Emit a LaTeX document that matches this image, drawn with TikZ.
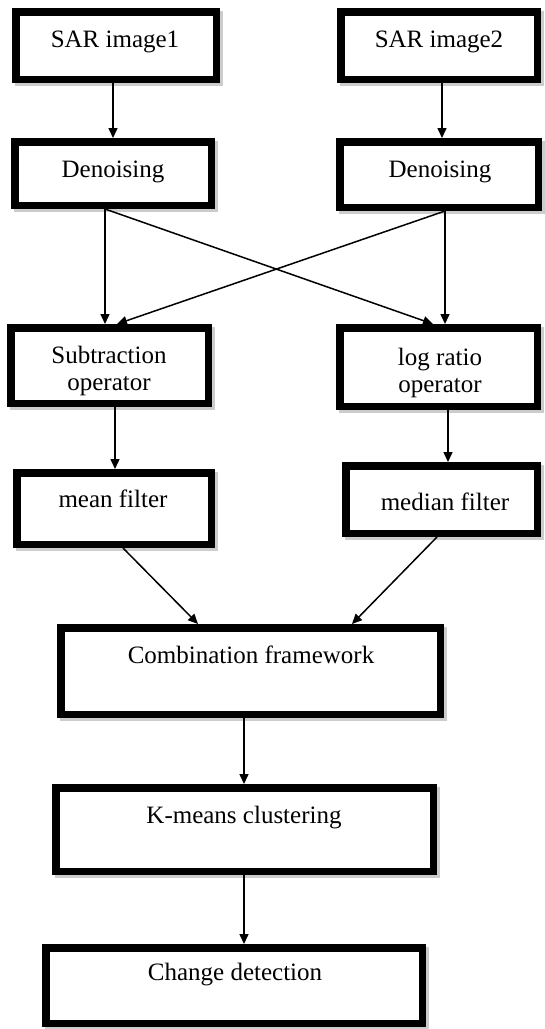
\documentclass[tikz,border=0pt]{standalone}
\usepackage{fontspec}
\setmainfont{Liberation Serif}
\usetikzlibrary{arrows.meta,shadows}
\tikzset{
  box/.style={draw=black, line width=7.5pt, fill=white, rectangle, inner sep=0pt, outer sep=3.75pt,
    drop shadow={shadow xshift=2.5pt, shadow yshift=-2.5pt, fill=gray!40, draw=gray!40, line width=7.5pt, opacity=1}},
  lbl/.style={font=\fontsize{25}{27}\selectfont, inner sep=0pt, align=center, text=black},
  arr/.style={line width=1.5pt, -{Triangle[length=10pt,width=9pt]}},
}
\begin{document}
\begin{tikzpicture}[x=1pt,y=-1pt]
\useasboundingbox (0,0) rectangle (544,1029);

% boxes
\node[box, minimum width=200.5pt, minimum height=67.5pt] (sar1) at (116,45.5) {};
\node[box, minimum width=196.5pt, minimum height=67.5pt] (sar2) at (439,45.5) {};
\node[box, minimum width=196.5pt, minimum height=63.5pt] (den1) at (113,173.5) {};
\node[box, minimum width=198.5pt, minimum height=65.5pt] (den2) at (439,174.5) {};
\node[box, minimum width=197.5pt, minimum height=75.5pt] (sub) at (109.5,365.5) {};
\node[box, minimum width=197.5pt, minimum height=78.5pt] (log) at (438.5,367) {};
\node[box, minimum width=194.5pt, minimum height=71.5pt] (mean) at (114,508.5) {};
\node[box, minimum width=191.5pt, minimum height=67.5pt] (median) at (441.5,499.5) {};
\node[box, minimum width=379.5pt, minimum height=86.5pt] (comb) at (250.5,671) {};
\node[box, minimum width=377.5pt, minimum height=83.5pt] (kmeans) at (244.5,829.5) {};
\node[box, minimum width=376.5pt, minimum height=75.5pt] (change) at (234,985.5) {};

% labels
\node[lbl, anchor=base] (tsar1) at (115,47) {SAR image1};
\node[lbl, anchor=base] (tsar2) at (439,47) {SAR image2};
\node[lbl, anchor=base] (tden1) at (113,177) {Denoising};
\node[lbl, anchor=base] (tden2) at (440,177) {Denoising};
\node[lbl] (tsub) at (109,371) {Subtraction\\operator};
\node[lbl] (tlog) at (440,372.5) {log ratio\\operator};
\node[lbl, anchor=base] (tmean) at (113,507) {mean filter};
\node[lbl, anchor=base] (tmedian) at (445,510) {median filter};
\node[lbl, anchor=base] (tcomb) at (251,663) {Combination framework};
\node[lbl, anchor=base] (tkm) at (244,823) {K-means clustering};
\node[lbl, anchor=base] (tchange) at (235,980) {Change detection};

% connector end points
\coordinate (s1s) at ([xshift=-3pt]sar1.south);
\coordinate (s2s) at ([xshift=3pt]sar2.south);
\coordinate (d1s) at ([xshift=-8pt]den1.south);
\coordinate (d2s) at ([xshift=6pt]den2.south);
\coordinate (sbs) at ([xshift=5.5pt]sub.south);
\coordinate (lgs) at ([xshift=9.5pt]log.south);
\coordinate (cbs) at ([xshift=-6.5pt]comb.south);
\coordinate (kms) at ([xshift=-0.5pt]kmeans.south);

% connectors
\draw[arr] (s1s) -- (s1s |- den1.north);
\draw[arr] (s2s) -- (s2s |- den2.north);
\draw[arr] (d1s) -- (d1s |- sub.north);
\draw[arr] (d1s) -- ([xshift=-5.5pt]log.north);
\draw[arr] (d2s) -- (d2s |- log.north);
\draw[arr] (d2s) -- ([xshift=7.5pt]sub.north);
\draw[arr] (sbs) -- (sbs |- mean.north);
\draw[arr] (lgs) -- (lgs |- median.north);
\draw[arr] ([xshift=9pt]mean.south) -- ([xshift=-52.5pt]comb.north);
\draw[arr] ([xshift=-4.5pt]median.south) -- ([xshift=101.5pt]comb.north);
\draw[arr] (cbs) -- (cbs |- kmeans.north);
\draw[arr] (kms) -- (kms |- change.north);
\end{tikzpicture}
\end{document}
